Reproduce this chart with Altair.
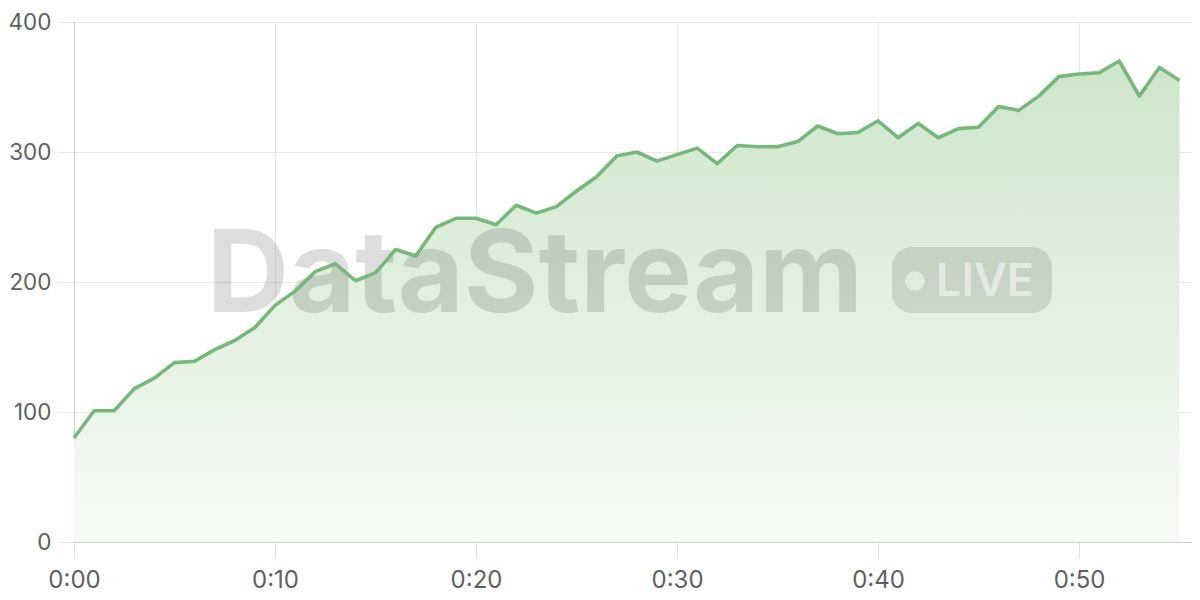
import altair as alt
import pandas as pd

minutes = list(range(56))
values = [80, 101, 101, 118, 126, 138, 139, 148, 155, 165,
          182, 193, 208, 214, 201, 207, 225, 220, 242, 249,
          249, 244, 259, 253, 258, 270, 281, 297, 300, 293,
          298, 303, 291, 305, 304, 304, 308, 320, 314, 315,
          324, 311, 322, 311, 318, 319, 335, 332, 343, 358,
          360, 361, 370, 343, 365, 355]
x_ticks = [0, 10, 20, 30, 40, 50]
y_ticks = [0, 100, 200, 300, 400]

df = pd.DataFrame({"t": minutes, "v": values})

FONT = "Inter"
W, H = 1118, 520

x_enc = alt.X("t:Q", scale=alt.Scale(domain=[0, 55.62], nice=False, zero=False),
              axis=alt.Axis(values=x_ticks, title=None,
                            labelExpr="'0:' + (datum.value < 10 ? '0' : '') + datum.value",
                            grid=True, gridColor="#e8e8e8", tickColor="#dedede", tickSize=16,
                            domainColor="#cccccc", labelColor="#5f5f5f", labelFontSize=24,
                            labelFont=FONT, labelPadding=10, labelFlush=False))
y_enc = alt.Y("v:Q", scale=alt.Scale(domain=[0, 400], nice=False),
              axis=alt.Axis(values=y_ticks, title=None, grid=True, gridColor="#e8e8e8",
                            tickColor="#e8e8e8", tickSize=16, domainColor="#cccccc",
                            labelColor="#5f5f5f", labelFontSize=22.5, labelFont=FONT,
                            labelPadding=7, labelFlush=False))

base = alt.Chart(df)

area = base.mark_area(
    color=alt.Gradient(gradient="linear", x1=0, y1=0, x2=0, y2=1,
                       stops=[alt.GradientStop(offset=0, color="#cde5ca"),
                              alt.GradientStop(offset=1, color="#f7fbf6")]),
).encode(x=x_enc, y=y_enc)

line = base.mark_line(color="#76b87a", strokeWidth=3.6, strokeJoin="round").encode(
    x="t:Q", y="v:Q")

wm_df = pd.DataFrame({"label": ["DataStream"]})
watermark = alt.Chart(wm_df).mark_text(
    font=FONT, fontSize=114, fontWeight=700, color="#000000", opacity=0.13,
    align="center", baseline="alphabetic"
).encode(text="label:N", x=alt.value(461), y=alt.value(290))

pill = alt.Chart(wm_df).mark_rect(color="#000000", opacity=0.11, cornerRadius=20).encode(
    x=alt.value(818), x2=alt.value(978), y=alt.value(225), y2=alt.value(291))

dot = alt.Chart(wm_df).mark_circle(color="#ffffff", opacity=0.5, size=380).encode(
    x=alt.value(841), y=alt.value(259))

live_df = pd.DataFrame({"label": ["LIVE"]})
live = alt.Chart(live_df).mark_text(
    font=FONT, fontSize=45, fontWeight=600, color="#ffffff", opacity=0.5,
    align="left", baseline="alphabetic"
).encode(text="label:N", x=alt.value(862), y=alt.value(274))

chart = alt.layer(area, watermark, pill, dot, live, line).properties(
    width=W, height=H,
    autosize=alt.AutoSizeParams(type="none"),
    padding={"left": 66, "top": 14, "right": 0, "bottom": 50},
    background="#ffffff",
).configure_view(stroke=None)

chart.save("out.html", embed_options={"renderer": "svg", "actions": False})
